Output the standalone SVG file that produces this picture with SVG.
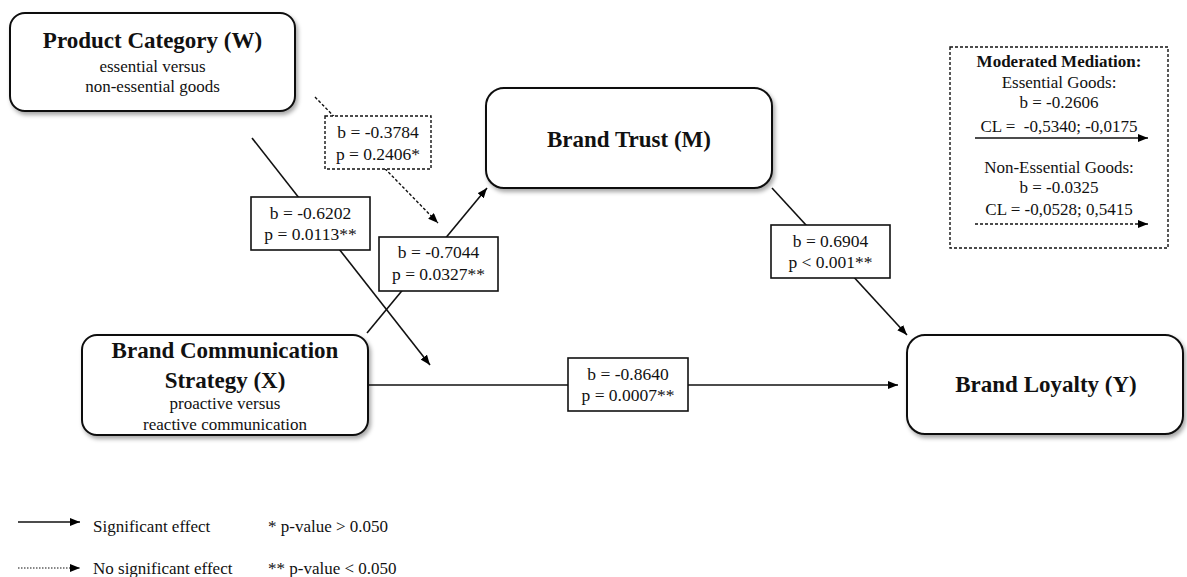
<svg xmlns="http://www.w3.org/2000/svg" width="1187" height="577" viewBox="0 0 1187 577">
<defs>
<filter id="sh" x="-10%" y="-10%" width="130%" height="140%">
<feDropShadow dx="2" dy="3" stdDeviation="2" flood-color="#000" flood-opacity="0.35"/>
</filter>
<marker id="ah" viewBox="0 0 10 8" refX="10" refY="4" markerWidth="10" markerHeight="8" markerUnits="userSpaceOnUse" orient="auto">
<path d="M0,0 L10,4 L0,8 z" fill="#000"/>
</marker>
</defs>
<style>
text{font-family:"Liberation Serif","Times New Roman",serif;fill:#111;text-anchor:middle}
.t{font-size:23px;font-weight:bold}
.s{font-size:17px}
.l{font-size:17.5px}
.mb{font-size:17px;font-weight:bold}
.lg{font-size:17px;text-anchor:start}
.node{fill:#fff;stroke:#111;stroke-width:2;filter:url(#sh)}
.c{fill:none;stroke:#111;stroke-width:1.6}
.d{fill:none;stroke:#111;stroke-width:1.4;stroke-dasharray:3 2}
.lb{fill:#fff;stroke:#111;stroke-width:1.6}
.lbd{fill:#fff;stroke:#111;stroke-width:1.4;stroke-dasharray:3 2}
</style>
<rect width="1187" height="577" fill="#fff"/>

<g id="connectors">
<line class="d" x1="315" y1="97" x2="438" y2="223" marker-end="url(#ah)"/>
<line class="c" x1="252" y1="138" x2="430" y2="365" marker-end="url(#ah)"/>
<line class="c" x1="367" y1="333" x2="487" y2="188" marker-end="url(#ah)"/>
<line class="c" x1="772" y1="188" x2="907" y2="335" marker-end="url(#ah)"/>
<line class="c" x1="368" y1="385" x2="898" y2="385" marker-end="url(#ah)"/>
</g>

<g id="labels">
<g id="lbl-w-mod">
<rect class="lbd" x="325" y="116" width="106" height="53"/>
<text class="l" x="378" y="138">b = -0.3784</text>
<text class="l" x="378" y="160">p = 0.2406*</text>
</g>
<g id="lbl-w">
<rect class="lb" x="251" y="197" width="119" height="53"/>
<text class="l" x="310.5" y="219">b = -0.6202</text>
<text class="l" x="310.5" y="240">p = 0.0113**</text>
</g>
<g id="lbl-xm">
<rect class="lb" x="379" y="237" width="119" height="54"/>
<text class="l" x="438.5" y="258">b = -0.7044</text>
<text class="l" x="438.5" y="280">p = 0.0327**</text>
</g>
<g id="lbl-my">
<rect class="lb" x="771" y="225" width="119" height="53"/>
<text class="l" x="830.5" y="247">b = 0.6904</text>
<text class="l" x="830.5" y="268">p &lt; 0.001**</text>
</g>
<g id="lbl-xy">
<rect class="lb" x="568" y="358" width="120" height="53"/>
<text class="l" x="628" y="380">b = -0.8640</text>
<text class="l" x="628" y="401">p = 0.0007**</text>
</g>
</g>

<g id="node-w">
<rect class="node" x="10" y="13" width="285" height="98" rx="15"/>
<text class="t" x="152.5" y="48">Product Category (W)</text>
<text class="s" x="152.5" y="72">essential versus</text>
<text class="s" x="152.5" y="92">non-essential goods</text>
</g>

<g id="node-m">
<rect class="node" x="486" y="88" width="286" height="100" rx="18"/>
<text class="t" x="629" y="147">Brand Trust (M)</text>
</g>

<g id="node-x">
<rect class="node" x="82" y="335" width="286" height="100" rx="15"/>
<text class="t" x="225" y="358">Brand Communication</text>
<text class="t" x="225" y="388">Strategy (X)</text>
<text class="s" x="225" y="409">proactive versus</text>
<text class="s" x="225" y="430">reactive communication</text>
</g>

<g id="node-y">
<rect class="node" x="907" y="335" width="276" height="99" rx="18"/>
<text class="t" x="1046" y="392">Brand Loyalty (Y)</text>
</g>

<g id="moderated-mediation">
<rect x="950" y="47" width="218" height="201" fill="#fff" stroke="#111" stroke-width="1.4" stroke-dasharray="3 2"/>
<text class="mb" x="1059" y="67">Moderated Mediation:</text>
<text class="s" x="1059" y="88">Essential Goods:</text>
<text class="s" x="1059" y="108">b = -0.2606</text>
<text class="s" x="1059" y="132">CL =&#160; -0,5340; -0,0175</text>
<line class="c" x1="975" y1="138" x2="1148" y2="138" marker-end="url(#ah)"/>
<text class="s" x="1059" y="173">Non-Essential Goods:</text>
<text class="s" x="1059" y="193">b = -0.0325</text>
<text class="s" x="1059" y="215">CL = -0,0528; 0,5415</text>
<line class="d" x1="975" y1="224" x2="1148" y2="224" marker-end="url(#ah)"/>
</g>

<g id="legend">
<line class="c" x1="18" y1="522" x2="80" y2="522" marker-end="url(#ah)"/>
<text class="lg" x="93" y="532">Significant effect</text>
<text class="lg" x="268" y="532">* p-value &gt; 0.050</text>
<line x1="18" y1="568" x2="80" y2="568" stroke="#111" stroke-width="1.2" stroke-dasharray="1.5 1.5" marker-end="url(#ah)"/>
<text class="lg" x="93" y="574">No significant effect</text>
<text class="lg" x="268" y="574">** p-value &lt; 0.050</text>
</g>
</svg>
